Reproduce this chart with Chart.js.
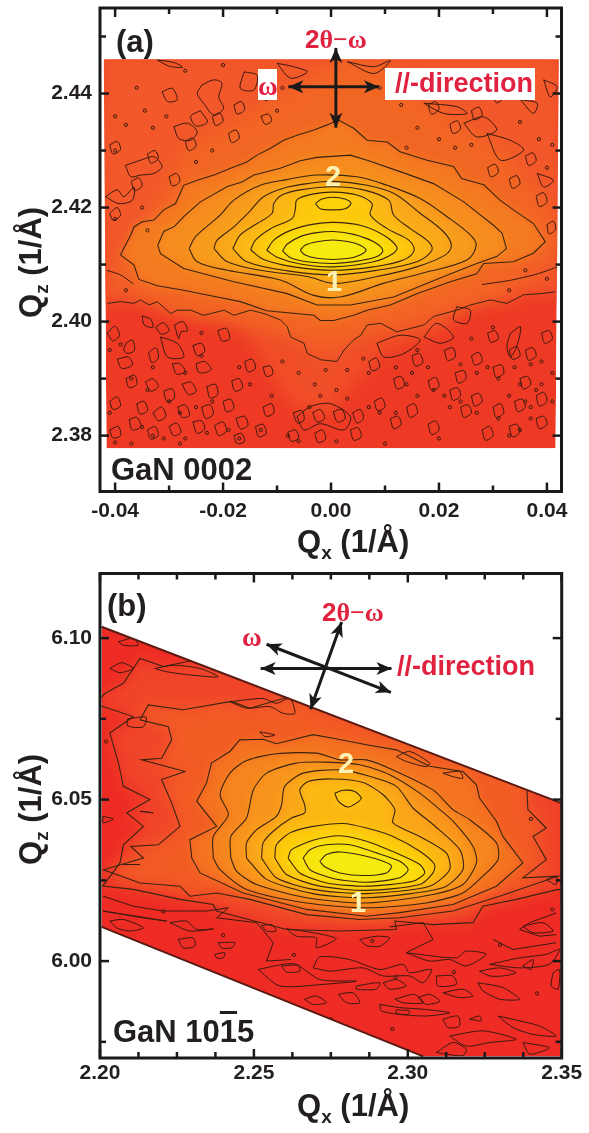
<!DOCTYPE html>
<html>
<head>
<meta charset="utf-8">
<script src="https://cdn.jsdelivr.net/npm/chart.js@4/dist/chart.umd.min.js"></script>
<style>
  html, body { margin: 0; padding: 0; background: #fff; }
  #page { position: relative; width: 589px; height: 1133px; overflow: hidden; }
  canvas { position: absolute; left: 0; }
  .t { position: absolute; white-space: nowrap; line-height: 1; font-family: "Liberation Sans", Arial, sans-serif; font-weight: bold; color: #231f20; }
  .big { font-size: 31px; }
  .big sub { font-size: 19px; vertical-align: -7px; line-height: 0; }
  .up { transform-origin: 0 0; transform: rotate(-90deg); }
  .red { color: #e0213f; }
  .cream { color: #fdf3b4; font-size: 29px; }
  .gr { font-family: "Liberation Serif", serif; }
  .box { position: absolute; background: #fff; }
  .bar { text-decoration: overline; text-decoration-thickness: 3px; }
</style>
</head>
<body>
<div id="page">
  <canvas id="chartA" width="589" height="560" style="top:0"></canvas>
  <canvas id="chartB" width="589" height="573" style="top:560px"></canvas>

  <div class="box" style="left:258px;top:69px;width:19px;height:31px"></div>
  <div class="box" style="left:385px;top:68px;width:150px;height:32px"></div>

  <div class="t big" style="left:116px;top:26px">(a)</div>
  <div class="t red" style="left:305px;top:26px;font-size:26px">2<span class="gr">θ−ω</span></div>
  <div class="t red gr" style="left:258px;top:73px;font-size:27px">ω</div>
  <div class="t red" style="left:395px;top:70px;font-size:27px">//-direction</div>
  <div class="t cream" style="left:325px;top:162px">2</div>
  <div class="t cream" style="left:326px;top:267px">1</div>
  <div class="t big" style="left:111px;top:454px">GaN 0002</div>
  <div class="t big" style="left:297px;top:526px">Q<sub>x</sub> (1/Å)</div>
  <div class="t big up" style="left:15px;top:318px">Q<sub>z</sub> (1/Å)</div>

  <div class="t big" style="left:107px;top:590px">(b)</div>
  <div class="t red" style="left:322px;top:599px;font-size:26px">2<span class="gr">θ−ω</span></div>
  <div class="t red gr" style="left:242px;top:624px;font-size:27px">ω</div>
  <div class="t red" style="left:397px;top:653px;font-size:27px">//-direction</div>
  <div class="t cream" style="left:338px;top:749px">2</div>
  <div class="t cream" style="left:350px;top:888px">1</div>
  <div class="t big" style="left:113px;top:1016px">GaN 10<span class="bar">1</span>5</div>
  <div class="t big" style="left:297px;top:1090px">Q<sub>x</sub> (1/Å)</div>
  <div class="t big up" style="left:15px;top:865px">Q<sub>z</sub> (1/Å)</div>
</div>

<script>
// all map values below are in units of 0.001 1/A, as x,y,x,y...

// panel (a) GaN 0002
var aXTicks = [-0.04, -0.02, 0, 0.02, 0.04];
var aXMinor = [-0.03, -0.01, 0.01, 0.03];
var aYTicks = [2.38, 2.40, 2.42, 2.44];
var aYMinor = [2.39, 2.41, 2.43, 2.45];

var aOutline = [-42.1,2446, 42.2,2446, 41.6,2377.8, -41.6,2377.8];

// soft colour areas with no contour line
var aTongue = [-18,2401, -12,2392, -7,2385, 0,2384, 5,2390, 10,2394.5, 20,2398, 25,2402, 0,2403];
var aGlow = [-41,2408, -36,2414, -27,2430, -14,2437, -3,2443, 1,2446, 8,2446, 20,2437, 32,2430, 41,2419, 42,2412, 30,2404, 0,2396, -30,2402];

var aVLine = [-41.4,2403.2, -39,2403.5, -36.5,2403.2, -35.3,2403.8, -33.7,2402.9, -32.2,2403.5, -29.7,2401.4, -28.5,2402, -26,2402, -23.6,2401.1, -19.8,2402, -18,2401.1, -14.9,2402, -12.4,2401.4, -9.4,2400.3, -8.1,2399.1, -7.5,2397.3, -5,2396.2, -4.4,2394.4, -1.9,2393.3, 1.1,2393, 2.4,2395, 4.2,2396.8, 5.5,2397.6, 6.7,2399.4, 9.2,2399.7, 12.2,2398.2, 14.7,2398.8, 17.2,2399.4, 19,2400.9, 23.3,2402, 25.8,2402.9, 29.5,2403.8, 32.6,2403.2, 35.7,2404.7, 38.8,2404.9, 41.5,2405.2];
var aTopCorners = [43,2405.2, 43,2447, -43,2447, -43,2403.2];

var aLevel3 = [-39,2411.7, -38.1,2413.4, -37.1,2415.2, -36.5,2416.6, -35,2417.5, -32.8,2417.8, -31,2419.6, -28.8,2420.7, -27.3,2423.9, -24.8,2424.8, -21.7,2425.7, -18.6,2426.9, -15.6,2428, -13.7,2429.2, -11.2,2430.4, -8.8,2431.8, -6.3,2432.7, -3.2,2433.6, -0.7,2434.5, 1.4,2435.35, 4.2,2433.9, 6.7,2431.8, 10.4,2431.5, 12.8,2429.8, 17.8,2428.3, 22.7,2427.2, 24.2,2425.1, 28.3,2424, 31.3,2421.3, 33.8,2419.6, 37.5,2417.2, 39.7,2414, 37.5,2412, 33.8,2410.5, 28.3,2410.2, 27,2408.4, 22.1,2407, 15.9,2404.9, 11,2402.9, 6.7,2402, 4.2,2401.1, 0.5,2400.2, -2,2400.2, -3.2,2401.1, -11.9,2401.9, -16.8,2403.5, -21.1,2404.3, -27.3,2405.5, -32.2,2406.3, -35.6,2407.4, -36.5,2409.9];
var aLevel4 = [-32.1,2413.4, -31,2415.8, -29,2416.7, -27.3,2418.4, -24.2,2421, -19.2,2423.7, -16.5,2424.5, -14.3,2425.7, -9.4,2426.9, -5.7,2428.2, -2.6,2428.8, 3.6,2429.2, 6.7,2428.3, 12.8,2426.3, 19,2424.2, 24.6,2421, 30.1,2416.9, 31.7,2415.5, 32.5,2412.8, 30.7,2411.4, 27,2410.2, 20.9,2407.9, 11.6,2404.3, 3.6,2402.9, -2.6,2402.9, -8.1,2404.9, -18,2407, -27.3,2409.3, -31.6,2411.9];
var aLevel5 = [-26.3,2412.8, -25.1,2414.9, -20.5,2418.7, -18,2421.3, -13.1,2423.9, -8.2,2424.9, -2.6,2425.7, 4.8,2425.4, 10.4,2423.9, 16.5,2421.6, 21.5,2418.4, 25.8,2415.2, 26.9,2413.4, 25.2,2410.8, 16.5,2408.4, 9.7,2406.7, 1.7,2404.3, -3.2,2404.6, -9.4,2407.3, -19.2,2409, -24.8,2410.5];
var aLevel6 = [-21.7,2412.8, -21.1,2414.3, -18,2416.6, -15.2,2419.2, -12.5,2421.9, -8.8,2423.4, -4.4,2424.2, 0.5,2424.6, 6.7,2423.9, 11.6,2422.5, 16.5,2419, 20.8,2415.8, 22.3,2413.4, 21.2,2411.7, 15.9,2409.6, 8.5,2407.9, 0.5,2406.7, -4.4,2407.9, -13.1,2409, -19.2,2410.5];
var aLevel7 = [-18.2,2412.8, -16.8,2415.2, -13.7,2417.2, -10.9,2419, -10.6,2420.7, -9.1,2422.2, -5.7,2423.1, 0.5,2423.65, 6,2423.1, 10.7,2421.3, 11.6,2418.7, 14.7,2416.3, 18.1,2414, 18.7,2412.5, 15.9,2410.5, 8.5,2409, 0.5,2408.2, -8.1,2408.9, -15.6,2410.5];
var aLevel8 = [-14.9,2412.6, -14,2414.3, -11.2,2416.3, -7.2,2418.1, -6.6,2419.8, -6.3,2421.4, -3.2,2422.4, 0.5,2422.7, 4.8,2422.2, 7.6,2420.7, 7.3,2418.7, 10.4,2416.3, 14.4,2414.3, 15.4,2412.5, 13.4,2410.8, 7.9,2409.6, 0.5,2409, -6.9,2409.6, -12.5,2410.9];
var aIsland = [-2.9,2420.7, -1.7,2421.5, 0.3,2421.8, 2.6,2421.5, 3.7,2420.7, 2.6,2419.8, 0.3,2419.6, -2,2419.8];
var aLevel9 = [-11.9,2412.5, -10.6,2414.3, -7.5,2416, -3.2,2417.1, 0.5,2417.4, 5.4,2416.9, 9.7,2415.2, 12.2,2413.1, 11.6,2412, 7.9,2410.5, 0.5,2409.6, -5.7,2410.1, -10,2411.3];
var aLevel10 = [-9,2412.4, -8.1,2413.6, -5.7,2414.9, -2.6,2415.6, 0.5,2415.8, 4.2,2415.3, 7.9,2414, 9.6,2412.5, 8.5,2411.4, 5.4,2410.7, 0.5,2410.2, -4.4,2410.5, -7.5,2411.2];
var aLevel11 = [-5.7,2412.5, -4.8,2413.4, -2.6,2414, 0.3,2414.3, 3.3,2414, 5.4,2413.4, 6.5,2412.5, 5.4,2411.7, 3.3,2411.1, 0.3,2410.9, -2.6,2411.1, -4.8,2411.7];

var aLevels = [aLevel3, aLevel4, aLevel5, aLevel6, aLevel7, aLevel8, aIsland, aLevel9, aLevel10, aLevel11];
var aColors = ['#f47b20', '#f68d1f', '#f79c1d', '#faa91a', '#fbb815', '#fdc90d', '#ffd40a', '#fcda0a', '#f8e60e', '#f5ec10'];

var aOpenLines = [
  [-41.6,2409, -39,2408.2, -36.6,2406.6],
  [42,2409.6, 38,2408.3, 33,2407.2, 28,2406.5]
];

var aNoise = [
  [-23.9,2441.5, -21.7,2442.4, -20.2,2441.8, -20.8,2439.4, -19.9,2437.4, -21.7,2436.2, -23.6,2438.3, -24.8,2440],
  [-29.1,2434.2, -26.6,2434.8, -24.8,2433.3, -26,2431.8, -28.2,2432.1],
  [-16.1,2443.8, -13.7,2443.2, -14.3,2440.6, -16.8,2440.9],
  [-38.1,2427.4, -35.3,2428.3, -32.8,2428.9, -31.3,2427.2, -32.8,2426, -35.3,2425.7, -37.1,2425.4],
  [-41.8,2421.9, -39.6,2423.1, -38.4,2421.9, -36.5,2423.6, -36.8,2421.3, -39.3,2420.7],
  [-31.3,2440.3, -29.4,2440.9, -28.5,2438.9, -30.3,2438.6],
  [-24.2,2437, -22.9,2435, -25,2434.3, -26,2436],
  [-10,2445.3, -6.9,2444.7, -4.4,2443.8, -7.5,2442.7],
  [-32.2,2445.9, -29,2445.4, -27.5,2444.6, -30,2444.8],
  [3,2445.6, 7.9,2444.7, 11,2445.8, 8,2443.5],
  [17.2,2438.3, 23.3,2437.7, 25.2,2436.5, 20.9,2436.5],
  [24.6,2434.8, 28.3,2435.9, 30.7,2433.6, 27,2432.4],
  [28.9,2433, 33.2,2431.8, 35.7,2430.1, 31.4,2428.3],
  [35.1,2438.9, 38.2,2438.3, 37.5,2436.5],
  [38.2,2426, 41.2,2424.8, 39.4,2423.6],
  [12.9,2444.1, 17.2,2443.5, 19.6,2441.2, 15,2441.8],
  [39.4,2442.4, 41.9,2441.2, 40.6,2439.4],
  [-41,2419, -39.6,2420, -39,2418.6, -40.4,2417.8],
  [-37,2424.6, -35.6,2425.2, -35,2423.8, -36.4,2423],
  [-34,2429.4, -32.6,2430, -32,2428.6, -33.4,2427.8],
  [-30,2425.4, -28.6,2426, -28,2424.6, -29.4,2423.8],
  [-27,2431.6, -25.6,2432.2, -25,2430.8, -26.4,2430],
  [-22,2436, -20.6,2436.6, -20,2435.2, -21.4,2434.4],
  [-19,2433, -17.6,2433.6, -17,2432.2, -18.4,2431.4],
  [-18,2438, -16.6,2438.6, -16,2437.2, -17.4,2436.4],
  [-13,2441, -11.6,2441.6, -11,2440.2, -12.4,2439.4],
  [-13,2436, -11.6,2436.4, -11,2435.2, -12.2,2434.6],
  [-41,2431, -39.6,2431.6, -39,2430.2, -40.4,2429.4],
  [11,2441.6, 12.4,2442.2, 13,2440.8, 11.6,2440],
  [18,2438, 19.4,2438.6, 20,2437.2, 18.6,2436.4],
  [22,2434.6, 23.4,2435.2, 24,2433.8, 22.6,2433],
  [26,2437, 27.4,2437.6, 28,2436.2, 26.6,2435.4],
  [30,2440, 31.4,2440.6, 32,2439.2, 30.6,2438.4],
  [29,2427, 30.4,2427.6, 31,2426.2, 29.6,2425.4],
  [33,2425, 34.4,2425.6, 35,2424.2, 33.6,2423.4],
  [36,2429, 37.4,2429.6, 38,2428.2, 36.6,2427.4],
  [38,2422, 39.4,2422.6, 40,2421, 38.6,2420.2],
  [40,2417, 41.2,2417.6, 41.6,2416.2, 40.4,2415.4],
  // below the peak, left
  [-41.5,2398, -40,2399.2, -39.2,2397.6, -40.4,2396.6],
  [-38,2396.2, -36.8,2396.8, -36.4,2395, -37.6,2394.4, -38.4,2395],
  [-35,2401, -33.4,2400.4, -33,2399, -34.6,2399.4],
  [-32.5,2399, -31,2399.8, -30,2398.4, -31.4,2397.8],
  [-29,2399.4, -27.4,2400, -26.6,2398.4, -27.8,2398.2, -28.2,2397],
  [-33.8,2394.6, -32.4,2395.4, -32,2393.6, -33.2,2392.8],
  [-29.4,2392.6, -28,2392.6, -27,2391.2, -28.6,2390.8],
  [-25.6,2395.8, -24,2396.2, -23.4,2394.8, -24.8,2394],
  [-25,2392.6, -23.4,2393, -22.2,2391.6, -23.6,2391, -24.6,2391.2],
  [-21,2398.4, -19.4,2398.8, -18.8,2397, -20.2,2396.6],
  [-41,2386, -39.6,2386.8, -39,2385.2, -40.4,2384.6],
  [-38,2390, -36.4,2390.6, -36,2389, -37.4,2388.4],
  [-34.4,2389.4, -33,2390, -32,2388.6, -33.4,2387.8],
  [-31,2387.8, -29.4,2388.2, -29,2386.6, -30.4,2386],
  [-27.6,2389, -26,2389.4, -25,2387.8, -26.4,2387.2],
  [-23,2388.6, -21.4,2389, -21,2387.2, -22.4,2386.6],
  [-36,2385.6, -34.6,2386, -34,2384.4, -35.4,2383.8],
  [-33,2384, -31.4,2385, -30.6,2383.4, -32,2382.6],
  [-28.4,2385, -27,2385.4, -26.2,2383.6, -27.6,2383.2],
  [-24,2385, -22.4,2385.4, -21.8,2383.8, -23.2,2383],
  [-20,2386, -18.6,2386.4, -18,2384.8, -19.4,2384.2],
  [-41,2381, -39.4,2381.6, -39,2380, -40.4,2379.6],
  [-37.4,2382.8, -36,2383.2, -35.2,2381.6, -36.8,2381],
  [-34,2381, -32.6,2381.6, -32,2380, -33.4,2379.4],
  [-30,2381.6, -28.6,2382.2, -27.8,2380.6, -29.2,2380],
  [-25.6,2382.4, -24,2382.6, -23.4,2381.2, -24.8,2380.4],
  [-21.6,2381.8, -20,2382.4, -19.4,2380.8, -20.8,2380],
  [-17.6,2383, -16,2383.4, -15.4,2381.8, -16.8,2381.2],
  [-14,2381.6, -12.6,2382, -12,2380.4, -13.4,2379.8],
  [-18,2380, -16.6,2380.4, -16,2379, -17.4,2378.6],
  [-12.6,2385, -11,2385.6, -10.6,2384, -12,2383.4],
  [-16,2393, -14.6,2393.4, -14,2391.8, -15.4,2391.2],
  [-18.4,2389.6, -17,2390, -16.4,2388.4, -17.8,2387.8],
  [-12.6,2392, -11.2,2392.2, -10.8,2390.8, -12,2390.4],
  [-39.6,2393.4, -37.6,2393.8, -36.8,2392.4, -38.8,2391.8],
  [-31.6,2397.3, -28.5,2396.2, -27.3,2393.8, -30.3,2393.8],
  // below the peak, centre
  [-7,2384, -5.4,2384.4, -5,2382.8, -6.2,2382.2],
  [-3.4,2384, -2,2384.6, -1.2,2383, -2.6,2382.4],
  [0.4,2384.2, 2,2384.6, 2.6,2383, 1.2,2382.4],
  [4,2384, 5.4,2384.6, 6,2383, 4.8,2382.2],
  [-8,2380.6, -6.6,2381, -6,2379.6, -7.4,2379],
  [-3,2380.4, -1.6,2381, -1,2379.4, -2.4,2378.8],
  [3.6,2381, 5,2381.4, 5.6,2379.8, 4.2,2379.2],
  [-6.3,2383.3, -3.8,2385.1, -0.1,2385.6, 3.6,2383.3, 2.4,2381, -2,2382.1, -5,2381],
  // below the peak, right
  [8,2386, 9.4,2386.6, 10,2385, 8.6,2384.4],
  [11.6,2390, 13,2390.4, 13.6,2388.8, 12.2,2388.2],
  [15,2394, 16.4,2394.4, 17,2392.8, 15.6,2392.2],
  [18,2389.6, 19.4,2390.2, 20,2388.6, 18.6,2388],
  [21,2395, 22.6,2395.4, 23,2393.8, 21.6,2393.2],
  [23,2391, 24.6,2391.4, 25,2390, 23.6,2389.2],
  [26,2394, 27.4,2394.6, 28,2393, 26.6,2392.4],
  [29,2398, 30.4,2398.4, 31,2397, 29.6,2396.4],
  [30,2392, 31.6,2392.4, 32,2391, 30.6,2390.2],
  [33,2395, 34.4,2395.6, 35,2394, 33.6,2393.4],
  [36,2395, 37.4,2395.4, 38,2394, 36.6,2393.2],
  [39,2398, 40.4,2398.4, 41,2397, 39.6,2396.2],
  [35,2390, 36.4,2390.4, 37,2389, 35.6,2388.2],
  [38,2387, 39.4,2387.6, 40,2386, 38.6,2385.2],
  [34,2386, 35.4,2386.4, 36,2385, 34.6,2384.2],
  [30,2385, 31.4,2385.6, 32,2384, 30.6,2383.2],
  [26,2387, 27.4,2387.4, 28,2386, 26.6,2385.2],
  [22,2388, 23.4,2388.4, 24,2387, 22.6,2386.2],
  [14,2385, 15.4,2385.6, 16,2384, 14.6,2383.2],
  [11,2383, 12.4,2383.4, 13,2382, 11.6,2381.2],
  [18,2382, 19.4,2382.6, 20,2381, 18.6,2380.2],
  [24,2385, 25.4,2385.4, 26,2384, 24.6,2383.2],
  [28,2381, 29.4,2381.6, 30,2380, 28.6,2379.2],
  [33,2381.6, 34.4,2382, 35,2380.6, 33.6,2379.8],
  [38,2383, 39.4,2383.4, 40,2382, 38.6,2381.2],
  [7,2393, 8.4,2393.6, 9,2392, 7.6,2391.4],
  [8.5,2396.2, 12.8,2397.6, 16.5,2396.8, 13.5,2394.4, 9.8,2393.8],
  [17.2,2397.3, 19.6,2399.7, 22.7,2397.3, 20.3,2396.2],
  [23.3,2402.6, 25.8,2402, 25.2,2399.7, 22.7,2400.3],
  [33.2,2397.9, 35.1,2399.1, 34.4,2395.6, 33.2,2393.8, 32.6,2395.6]
];

var aDots = [-36,2441, -34.5,2437, -38,2434.5, -40,2436, -33,2434, -30.5,2436, -40,2430, -27,2444, -20,2445, -12,2439, -10,2437, -9,2441, 9,2441, 13,2438, 16,2434, 20,2432, 23,2430.5, 26,2431, 35,2435, 38.5,2432, 41,2431, 40,2427, 14,2430.5, -25,2428, -22,2430, -35,2420, -34,2416, -40,2418, 36,2409, 40,2407.5, 33,2405.5, -38,2405.5,
  -41,2395, -33,2392, -24,2394, -15,2389, -9,2393, -6,2391, -3,2389, -1,2391.5, 1,2388, -4,2385, -11,2387, 3,2391.5, 7,2391, 6,2393.5, 15,2391, 18,2392, 16,2395, 26,2397, 30,2399, 39,2393, 41,2386, 37,2385, 38,2388, 35,2389, 34,2392, 37,2392.5, -41,2384, -37,2378.6, -23,2380.5, -17,2392, -24,2398, -28,2384, -13,2381, -8,2380, -6,2379, 1,2379, 10,2378.6, 16,2387, 22,2385, 31,2383, 35,2381, -33,2380, -28,2378.6,
  -39,2396, -37,2390, -34,2388, -30,2386, -27,2391, -25,2385, -22,2386, -19,2381, -17,2379.5, -35,2381.5, -31,2379.5, -27,2379.5, -40,2378.8, 12,2392, 14,2389, 19,2388, 21,2387, 24,2392.5, 27,2391, 29,2392, 31,2390, 33,2387, 36,2386, 39,2389, 41,2391, 37,2383, 33,2380, 27,2384, 24,2386, 20,2379.5, 12,2384, 7,2385, 9,2384, -2,2387, 3,2386.5];

var aArrows = [
  [-7.9,2441.2, 8.9,2441.2],
  [0.9,2448, 0.9,2434]
];

// panel (b) GaN 10-15
var bXTicks = [2.20, 2.25, 2.30, 2.35];
var bXMinor = [2.2125, 2.225, 2.2375, 2.2625, 2.275, 2.2875, 2.3125, 2.325, 2.3375];
var bYTicks = [6.00, 6.05, 6.10];
var bYMinor = [5.975, 6.025, 6.075];

var bOutline = [2200.5,6103.5, 2349.7,6049, 2349.7,5970.5, 2305,5970.5, 2200.5,6010.6];

var bLevel11 = [2240,6095, 2220.6,6091.2, 2213,6093.7, 2207.6,6086, 2201.6,6082.9, 2199,6080, 2200.9,6078.8, 2210.8,6075.7, 2203.2,6070.6, 2206,6061.3, 2207.6,6054.1, 2216.2,6050, 2208.7,6045.9, 2214.1,6041.7, 2207.6,6036, 2206.5,6030.4, 2200.9,6023.2, 2210.8,6022.2, 2226,6019.1, 2236.8,6017.5, 2237.9,6015.5, 2260.6,6009.8, 2277.9,6009.3, 2296.3,6009.8, 2295.8,6012.4, 2308.2,6011.3, 2321.2,6011.9, 2324.4,6017, 2335.3,6019.1, 2348.8,6022.2, 2351,6022, 2351,6060, 2300,6085];
var bLevel10 = [2218.9,6036, 2226,6041.7, 2223.3,6048.9, 2220,6056.2, 2227.6,6058.7, 2213.5,6062.3, 2220,6062.8, 2223.3,6068.5, 2222.2,6072.6, 2213,6074.7, 2215.7,6079.3, 2227,6077.8, 2242.7,6080.4, 2248.7,6078.3, 2261.7,6081.9, 2268.2,6078.8, 2277.9,6075.7, 2310,6070, 2338.5,6058, 2339,6046.9, 2345,6041.2, 2340.7,6038.6, 2345,6031.4, 2337.4,6025.8, 2348.8,6026.3, 2329.8,6020.1, 2314.7,6015.5, 2297.4,6013.4, 2284.4,6012.9, 2267.1,6014.4, 2248.7,6019.1, 2237.9,6021.1, 2229.2,6020.1, 2226,6023.2, 2213,6024.2, 2201.1,6028.3, 2214.1,6031.9, 2210,6035.5];
var bLevel9 = [2229.8,6031.9, 2229.2,6037.6, 2237.9,6041.7, 2231.4,6049.5, 2234.6,6055.1, 2236.2,6061.3, 2242.2,6064.9, 2245.4,6068.5, 2253,6068.7, 2257.3,6067.3, 2269.2,6070.1, 2275.7,6069, 2286.6,6067, 2296.3,6065.4, 2307.1,6060.3, 2317.9,6058.7, 2322.3,6054.6, 2323.3,6050.5, 2328.8,6043.3, 2330.9,6038.6, 2337.4,6030.4, 2328.8,6023.2, 2314.7,6017.5, 2297.4,6015, 2286.6,6013.9, 2267.1,6016, 2246.5,6021.1, 2232.5,6027.3];
var bLevel8 = [2236.8,6031.9, 2236.8,6038.6, 2241.7,6045.3, 2239,6051.5, 2242.2,6058.2, 2247.6,6062.1, 2257.3,6064.2, 2270.3,6064.4, 2277.9,6062.3, 2286.6,6062.3, 2295.2,6059.2, 2308.2,6053, 2314.7,6046.9, 2320.1,6043.8, 2328.8,6036.6, 2329.3,6031.4, 2324.4,6026.3, 2317.9,6021.1, 2306,6018, 2286.6,6016.5, 2267.1,6018, 2247.6,6022.2, 2239,6028.3];
var bLevel7 = [2242.5,6031.9, 2242.5,6038.6, 2247.6,6044.3, 2249.8,6053, 2254.1,6058.2, 2263.8,6061.3, 2273.6,6061.6, 2284.4,6060.8, 2294.1,6057.7, 2303.9,6052, 2310.4,6046.9, 2314.7,6043.3, 2321.2,6035.5, 2322.3,6030.4, 2317.9,6023.7, 2308.2,6020.6, 2286.6,6018, 2267.1,6019.6, 2250.9,6023.7, 2244.4,6027.8];
var bLevel6 = [2247.6,6031.9, 2247.6,6036.6, 2250.9,6040.7, 2257.3,6044.8, 2259,6048.4, 2260,6054.1, 2266,6058.2, 2277.9,6059.2, 2287.6,6057.2, 2296.3,6054.1, 2301.7,6047.4, 2308.2,6042.3, 2316.9,6034.5, 2317.9,6028.3, 2311.4,6022.7, 2286.6,6019.6, 2269.2,6020.9, 2254.1,6025.3];
var bLevel5 = [2252.5,6031.9, 2253,6036.6, 2256.3,6040.2, 2262.2,6044.3, 2266.5,6045.9, 2266.5,6048.4, 2264.9,6053, 2267.6,6055.6, 2275.7,6056.4, 2285.5,6055.3, 2292,6051.5, 2295.8,6046.9, 2295.2,6042.8, 2303.9,6038.6, 2312.5,6033.5, 2313.6,6028.3, 2307.1,6023.2, 2286.6,6020.9, 2269.2,6022.2, 2257.3,6025.8];
var bIsland = [2276.3,6052, 2279,6052.9, 2282.8,6052.5, 2284.9,6050.3, 2280.6,6047.7, 2277.4,6049.5];
var bLevel4 = [2256.8,6031.9, 2257.3,6036, 2261.7,6039.7, 2269.2,6041.7, 2279,6042.6, 2286.6,6041.2, 2295.2,6038.6, 2303.9,6034, 2308.7,6029.9, 2308.2,6027.3, 2303.9,6023.7, 2286.6,6021.9, 2271.4,6023.2, 2260.6,6026.8];
var bLevel3 = [2261.1,6031.9, 2262.2,6034.5, 2269.2,6037.4, 2277.9,6038.8, 2286.6,6037.1, 2297.4,6033, 2303.9,6029.9, 2305.5,6027.3, 2301.7,6024.7, 2286.6,6023.2, 2273.6,6024.2, 2264.9,6027.3];
var bLevel2 = [2266,6031.9, 2268.2,6034.5, 2273.6,6036, 2281.2,6036, 2289.8,6033.5, 2297.4,6030.9, 2300.1,6028.3, 2297.4,6025.8, 2286.6,6024.4, 2275.7,6025.6, 2268.2,6028.3];
var bLevel1 = [2271.4,6030.9, 2273.6,6033, 2277.9,6033.8, 2285.5,6032.7, 2292,6030.9, 2294.7,6029.4, 2293.1,6027.3, 2285.5,6026.5, 2277.9,6027.3, 2273,6029.2];

var bLevels = [bLevel11, bLevel10, bLevel9, bLevel8, bLevel7, bLevel6, bLevel5, bIsland, bLevel4, bLevel3, bLevel2, bLevel1];
var bColors = ['#f0452a', '#f25c25', '#f47321', '#f6851f', '#f8951d', '#faa61a', '#fcb813', '#ffc90e', '#fdcb0b', '#fadd0c', '#f7e70e', '#f4ec10'];

var bOpenLines = [
  [2201,6020.1, 2210.8,6017, 2220.6,6015.5, 2234.6,6015.5, 2241.7,6016.5, 2237.9,6013.4, 2250.9,6011.9, 2256.3,6005.7, 2254.1,6000, 2262,6000.5],
  [2294.1,6010.6, 2305,6011.9, 2308.2,6006.7, 2299.5,6002.6],
  [2327.7,6006.7, 2334.2,6003.6, 2348.2,6005.7],
  [2348.2,6014.9, 2339.6,6011.9, 2336.3,6009.8, 2342.8,6007.7, 2348.2,6008.2]
];

var bNoise = [
  [2203.2,6012.4, 2207.6,6012.9, 2214.1,6010.3, 2209.7,6009.3, 2205.4,6010.3],
  [2225.4,6006.7, 2230.3,6007.2, 2230.8,6004.6, 2227,6004.1],
  [2238.4,6005.7, 2243.8,6005.7, 2242.7,6004.1, 2239.5,6004.1],
  [2237.3,6002.1, 2240.6,6002.6, 2240,6001, 2237.9,6001],
  [2252.5,6011, 2255.7,6011.3, 2257.3,6009.3, 2254.1,6009.3],
  [2222.7,6011.9, 2228.1,6012.4, 2231.4,6009.8, 2236.8,6010, 2229.2,6009.3],
  [2260.6,6010, 2266,6009.3, 2272.5,6008.2, 2276.8,6006.9, 2270.3,6004.1, 2270.3,6007.2, 2263.8,6007.7],
  [2284.4,6006.7, 2289.8,6007.7, 2294.1,6007.2, 2290.9,6004.6, 2286.6,6004.8],
  [2251.4,5997.4, 2259.5,5999, 2263.8,5999, 2271.4,5994.3, 2283.3,5993.8, 2272.5,5992.8, 2258.4,5992.3],
  [2259,5998.5, 2264.4,5998.7, 2264.9,5996.9, 2260.6,5996.6],
  [2269.2,5997.9, 2271.4,6001.3, 2281.1,6000.5, 2290.9,5997.4, 2298.5,5999, 2300.6,5996.4, 2307.7,5997.4, 2305,5993.3, 2300.6,5995.4, 2292,5995.4, 2285.5,5997.9, 2274.7,5996.9],
  [2299.5,6002.6, 2315.8,6001, 2319,6003.1, 2325.5,6002.1, 2319,5998.5, 2313.6,6000.5, 2307.1,6000],
  [2309.3,5995.4, 2314.7,5995.4, 2315.8,5992.8, 2309.8,5992.3],
  [2323.3,5996.9, 2329.8,5997.9, 2335.2,5996.4, 2330.9,5995.4, 2326.6,5995.4],
  [2326.6,5999, 2336.3,6001, 2345,6002.1, 2349.3,6003.6, 2346,5999, 2336.3,5997.9],
  [2283.3,5992.3, 2290.9,5993.3, 2289.8,5991.3, 2283.3,5991.3],
  [2292,5993.3, 2296.3,5994.3, 2299.5,5992.3, 2294.1,5991.3],
  [2277.4,5989.7, 2282.2,5990.2, 2284.4,5987.1, 2280.1,5987.1],
  [2266.5,5988.2, 2270.3,5989.2, 2273.6,5987.1, 2269.2,5986.6],
  [2303.3,5988.7, 2307.1,5989.7, 2310.4,5987.6, 2306,5986.6],
  [2295.8,5988.2, 2302.2,5989.7, 2305,5987.1, 2298.5,5987.1],
  [2311.4,5990.2, 2317.9,5991.3, 2321.2,5989.2, 2316.8,5988.7],
  [2290.9,5986.6, 2297.4,5985.6, 2305,5985.1, 2313.6,5984, 2306,5983, 2297.4,5983.5, 2291.4,5984.6],
  [2296.3,5984.9, 2300.6,5984.6, 2300.1,5983.5, 2296.3,5983.8],
  [2311.4,5982, 2316.3,5983, 2316.8,5979.9, 2313.1,5979.4],
  [2320.1,5982, 2323.3,5983, 2323.9,5981.5],
  [2322.8,5993.3, 2330.9,5991.8, 2336.3,5988.2, 2329.8,5988.2, 2324.4,5990.8],
  [2337.4,5998.5, 2340.7,6000.5, 2340.1,5997.4],
  [2347.2,5996.4, 2349.3,5997.4, 2348.8,5991.3, 2346.6,5992.3],
  [2329.3,5983, 2336.3,5981.5, 2342.8,5979.9, 2348.2,5976.8, 2340.7,5977.3, 2334.2,5979.4],
  [2313.6,5976.8, 2324.4,5978.4, 2335.2,5975.8, 2326.6,5974.8, 2319,5973.7],
  [2337.4,5974.8, 2346,5973.2, 2339.6,5971.2],
  [2309.3,5971.7, 2314.7,5974.8, 2319,5972.7, 2317.9,5970.7],
  [2337.4,6010.8, 2343.9,6011.9, 2347.2,6009.3, 2340.7,6008.8],
  [2345,6025.2, 2348.2,6026.3, 2348.2,6023.7],
  [2203.2,6090.6, 2207,6092.4, 2210.8,6090.6, 2206.5,6089.3],
  [2217.8,6090.6, 2223.8,6091.6, 2232.5,6090.6, 2238.4,6088, 2229.2,6088.6, 2221.6,6089.6],
  [2206,6098.9, 2210.8,6099.9, 2212.4,6097.8, 2207.6,6097.8],
  [2242.2,6080.3, 2253,6081.3, 2257.3,6079.8, 2261.7,6081.3, 2263.3,6076.7, 2259.5,6076.7, 2255.2,6078.8, 2247.6,6078.3],
  [2251.9,6071, 2256.8,6070, 2253.6,6069.5],
  [2296.3,6063.3, 2300.6,6064.9, 2307.1,6061.3, 2306,6060.2, 2299.5,6061.8],
  [2311.4,6058.2, 2316.8,6058.7, 2317.9,6056.6, 2314.7,6057.1],
  [2201,6044.8, 2204.3,6044, 2201,6042.8],
  [2213,6046.4, 2217.3,6045.9],
  [2207.6,6029.9, 2213,6029.9],
  [2209,6075, 2215,6075.5, 2214,6072.5, 2209,6072.8],
  [2201,6015.5, 2214,6013.4, 2221.6,6012.4]
];

var bDots = [2220.6,6015.4, 2263,6001.9, 2288.5,6006.2, 2296,5995, 2315,5996.6, 2342,5990, 2330,6005, 2240,6008, 2275,5982, 2295,5979, 2347,6016, 2202,6068, 2340,6044];

var bArrows = [
  [2252.2,6090.6, 2294.7,6090.6],
  [2254.1,6098.1, 2294.5,6083.2],
  [2278.5,6105, 2268.4,6078]
];
var bEdges = [
  [2200.5,6010.6, 2305,5970.5],
  [2200.5,6103.5, 2349.7,6049]
];

function toPoints(flat) {
  var out = [];
  for (var i = 0; i < flat.length; i += 2) {
    out.push({ x: flat[i] / 1000, y: flat[i + 1] / 1000 });
  }
  return out;
}

function closed(flat) {
  return toPoints(flat.concat([flat[0], flat[1]]));
}

function fillLayer(flat, color, tension, blur) {
  return { data: closed(flat), showLine: true, pointRadius: 0, borderColor: 'transparent', borderWidth: 1, tension: tension, levelColor: color, levelBlur: blur };
}

function lineLayer(data, width, tension, color) {
  return { data: data, showLine: true, pointRadius: 0, borderColor: color || '#3a2410', borderWidth: width, tension: tension };
}

function dotLayer(flat) {
  return { data: toPoints(flat), showLine: false, pointRadius: 1.6, pointBorderWidth: 1, pointBorderColor: '#3a1a10', pointBackgroundColor: 'transparent' };
}

// fills every level with a soft edge, so the bands run into each other like the map
function mapPlugin(outline) {
  return {
    id: 'mapFill',
    beforeDatasetsDraw: function(chart) {
      var ctx = chart.ctx, pts = toPoints(outline);
      ctx.save();
      ctx.beginPath();
      pts.forEach(function(p, i) {
        var px = chart.scales.x.getPixelForValue(p.x), py = chart.scales.y.getPixelForValue(p.y);
        if (i === 0) ctx.moveTo(px, py); else ctx.lineTo(px, py);
      });
      ctx.closePath();
      ctx.clip();
    },
    beforeDatasetDraw: function(chart, args) {
      var ds = chart.data.datasets[args.index];
      if (!ds.levelColor) return;
      var ctx = chart.ctx;
      ctx.save();
      ctx.filter = ds.levelBlur ? 'blur(' + ds.levelBlur + 'px)' : 'none';
      ctx.fillStyle = ds.levelColor;
      ctx.beginPath();
      args.meta.dataset.path(ctx);
      ctx.closePath();
      ctx.fill();
      ctx.restore();
    },
    afterDatasetsDraw: function(chart) {
      chart.ctx.restore();
    }
  };
}

// box with inward ticks on all four sides, and the double arrows
function framePlugin(xMajor, xMinor, yMajor, yMinor, arrows, edges) {
  function arrowHead(ctx, x, y, ang) {
    ctx.save();
    ctx.translate(x, y);
    ctx.rotate(ang);
    ctx.beginPath();
    ctx.moveTo(0, 0);
    ctx.lineTo(-15, -6.5);
    ctx.lineTo(-11, 0);
    ctx.lineTo(-15, 6.5);
    ctx.closePath();
    ctx.fill();
    ctx.restore();
  }
  return {
    id: 'frameTicks',
    afterDatasetsDraw: function(chart) {
      var ctx = chart.ctx, a = chart.chartArea, sx = chart.scales.x, sy = chart.scales.y;
      ctx.save();
      ctx.fillStyle = '#1a1a1a';
      (edges || []).forEach(function(e) {
        ctx.lineWidth = 2;
        ctx.strokeStyle = '#5a1a12';
        ctx.beginPath();
        ctx.moveTo(sx.getPixelForValue(e[0] / 1000), sy.getPixelForValue(e[1] / 1000));
        ctx.lineTo(sx.getPixelForValue(e[2] / 1000), sy.getPixelForValue(e[3] / 1000));
        ctx.stroke();
      });
      ctx.strokeStyle = '#1a1a1a';
      ctx.lineWidth = 2.5;
      function xt(vals, len) {
        vals.forEach(function(v) {
          var p = sx.getPixelForValue(v);
          ctx.beginPath(); ctx.moveTo(p, a.bottom); ctx.lineTo(p, a.bottom - len); ctx.stroke();
          ctx.beginPath(); ctx.moveTo(p, a.top); ctx.lineTo(p, a.top + len); ctx.stroke();
        });
      }
      function yt(vals, len) {
        vals.forEach(function(v) {
          var p = sy.getPixelForValue(v);
          ctx.beginPath(); ctx.moveTo(a.left, p); ctx.lineTo(a.left + len, p); ctx.stroke();
          ctx.beginPath(); ctx.moveTo(a.right, p); ctx.lineTo(a.right - len, p); ctx.stroke();
        });
      }
      xt(xMajor, 9); xt(xMinor, 6); yt(yMajor, 9); yt(yMinor, 6);
      ctx.lineWidth = 3;
      ctx.strokeRect(a.left, a.top, a.right - a.left, a.bottom - a.top);
      arrows.forEach(function(r) {
        var x1 = sx.getPixelForValue(r[0] / 1000), y1 = sy.getPixelForValue(r[1] / 1000);
        var x2 = sx.getPixelForValue(r[2] / 1000), y2 = sy.getPixelForValue(r[3] / 1000);
        var ang = Math.atan2(y2 - y1, x2 - x1);
        ctx.lineWidth = 3;
        ctx.beginPath(); ctx.moveTo(x1, y1); ctx.lineTo(x2, y2); ctx.stroke();
        arrowHead(ctx, x2, y2, ang);
        arrowHead(ctx, x1, y1, ang + Math.PI);
      });
      ctx.restore();
    }
  };
}

function tickFont() {
  return { family: '"Liberation Sans", Arial, sans-serif', size: 21, weight: 'bold' };
}

function makeChart(id, cfg) {
  new Chart(document.getElementById(id), {
    type: 'scatter',
    data: { datasets: cfg.layers.slice().reverse() },
    plugins: [mapPlugin(cfg.outline), framePlugin(cfg.xTicks, cfg.xMinor, cfg.yTicks, cfg.yMinor, cfg.arrows, cfg.edges)],
    options: {
      responsive: false,
      animation: false,
      events: [],
      layout: { padding: { top: cfg.padTop, right: cfg.padRight, left: 0, bottom: 0 } },
      plugins: { legend: { display: false }, tooltip: { enabled: false } },
      scales: {
        x: {
          type: 'linear', min: cfg.xMin, max: cfg.xMax,
          afterBuildTicks: function(s) { s.ticks = cfg.xTicks.map(function(v) { return { value: v }; }); },
          afterFit: function(s) { s.height = cfg.xHeight; s.paddingLeft = 0; s.paddingRight = 0; },
          grid: { display: false, drawTicks: false },
          border: { display: false },
          ticks: { color: '#231f20', font: tickFont(), padding: cfg.xPad, autoSkip: false, maxRotation: 0, callback: function(v) { return v.toFixed(2); } }
        },
        y: {
          type: 'linear', min: cfg.yMin, max: cfg.yMax,
          afterBuildTicks: function(s) { s.ticks = cfg.yTicks.map(function(v) { return { value: v }; }); },
          afterFit: function(s) { s.width = 100; s.paddingTop = 0; s.paddingBottom = 0; },
          grid: { display: false, drawTicks: false },
          border: { display: false },
          ticks: { color: '#231f20', font: tickFont(), padding: 8, autoSkip: false, callback: function(v) { return v.toFixed(2); } }
        }
      }
    }
  });
}

// panel a, painted from the bottom up
var aLayers = [
  fillLayer(aOutline, '#ee3a25', 0, 0),
  fillLayer(aTongue, '#f04e28', 0, 8),
  fillLayer(aVLine.concat(aTopCorners), '#f2582a', 0, 8),
  fillLayer(aGlow, '#f26624', 0, 9)
];
aLevels.forEach(function(s, i) { aLayers.push(fillLayer(s, aColors[i], i < 2 ? 0 : 0.35, 5)); });
aLayers.push(lineLayer(toPoints(aVLine), 1, 0));
aLevels.forEach(function(s, i) { aLayers.push(lineLayer(closed(s), 1.1, i < 2 ? 0 : 0.35)); });
aOpenLines.forEach(function(s) { aLayers.push(lineLayer(toPoints(s), 1, 0.2, '#3a1a10')); });
aNoise.forEach(function(s) { aLayers.push(lineLayer(closed(s), 1, 0.3, '#3a1a10')); });
aLayers.push(dotLayer(aDots));

makeChart('chartA', {
  layers: aLayers, outline: aOutline, arrows: aArrows,
  xTicks: aXTicks, xMinor: aXMinor, yTicks: aYTicks, yMinor: aYMinor,
  xMin: -0.0428, xMax: 0.0427, yMin: 2.3702, yMax: 2.4550,
  padTop: 8, padRight: 27.5, xHeight: 68.5, xPad: 7
});

// panel b
var bLayers = [fillLayer(bOutline, '#ee2b24', 0, 0)];
bLevels.forEach(function(s, i) { bLayers.push(fillLayer(s, bColors[i], i < 3 ? 0 : 0.25, i < 2 ? 8 : 5)); });
bLevels.forEach(function(s, i) { bLayers.push(lineLayer(closed(s), 1.1, i < 3 ? 0 : 0.25)); });
bOpenLines.forEach(function(s) { bLayers.push(lineLayer(toPoints(s), 1, 0, '#3a1a10')); });
bNoise.forEach(function(s) { bLayers.push(lineLayer(closed(s), 1, 0.25, '#3a1a10')); });
bLayers.push(dotLayer(bDots));

makeChart('chartB', {
  layers: bLayers, outline: bOutline, arrows: bArrows, edges: bEdges,
  xTicks: bXTicks, xMinor: bXMinor, yTicks: bYTicks, yMinor: bYMinor,
  xMin: 2.20, xMax: 2.35, yMin: 5.97, yMax: 6.12,
  padTop: 13.5, padRight: 27.3, xHeight: 75, xPad: 3
});
</script>
</body>
</html>
